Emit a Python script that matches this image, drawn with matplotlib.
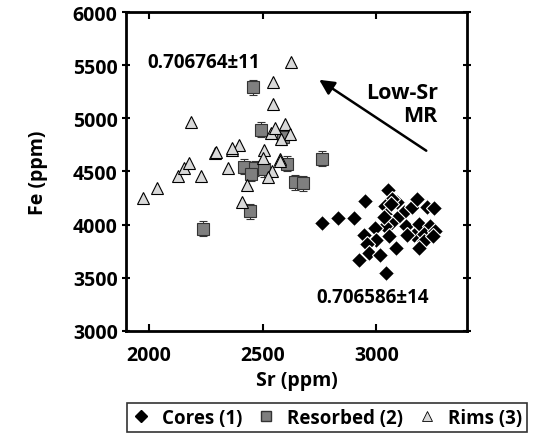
import matplotlib
matplotlib.use("Agg")
import matplotlib.pyplot as plt
from matplotlib.lines import Line2D

plt.rcParams["font.family"] = ["Open Sans", "DejaVu Sans"]
plt.rcParams["font.weight"] = "bold"

# ── Data ──────────────────────────────────────────────────────────────────────

# Cores (1): black diamonds
core_sr = [2761, 2831, 2900, 2951, 3050, 3091, 3069, 3039, 3120, 3157, 3178,
           3223, 3252, 3044, 3091, 3065, 3039, 3132, 3186, 3237, 2995, 2944,
           3054, 3000, 3164, 3211, 3259, 2959, 3208, 3087, 3186, 2966, 3017,
           2925, 3044, 3134, 3249, 3065, 3032]
core_fe = [4016, 4060, 4060, 4226, 4329, 4210, 4242, 4173, 4117, 4164, 4242,
           4164, 4154, 4091, 4063, 4016, 3991, 3991, 4006, 3985, 3966, 3903,
           3897, 3859, 3903, 3912, 3944, 3818, 3850, 3778, 3778, 3734, 3715,
           3671, 3546, 3903, 3891, 4195, 4069]

# Resorbed (2): grey squares with Fe error bars
res_sr  = [2237, 2446, 2419, 2467, 2507, 2450, 2607, 2643, 2680, 2762, 2460,
           2494, 2588]
res_fe  = [3960, 4126, 4545, 4530, 4520, 4477, 4571, 4399, 4389, 4620, 5292,
           4894, 4822]
res_err = [70] * len(res_sr)

# Rims (3): light grey triangles
rim_sr = [1973, 2036, 2130, 2157, 2179, 2230, 2292, 2366, 2349, 2431, 2410,
          2185, 2625, 2548, 2548, 2598, 2538, 2556, 2621, 2508, 2398, 2368,
          2295, 2577, 2582, 2504, 2541, 2526, 2577]
rim_fe = [4248, 4342, 4455, 4533, 4577, 4455, 4675, 4703, 4533, 4376, 4216,
          4963, 5533, 5340, 5133, 4947, 4860, 4906, 4853, 4705, 4752, 4718,
          4681, 4618, 4806, 4625, 4508, 4446, 4602]

x_ticks = [2000, 2500, 3000]
y_ticks = [3000, 3500, 4000, 4500, 5000, 5500, 6000]

# ── Figure ────────────────────────────────────────────────────────────────────

fig = plt.figure(figsize=(5.34, 4.35), dpi=100)
ax = fig.add_axes([0.236, 0.237, 0.639, 0.733])

ax.plot(core_sr, core_fe, ls="none", marker="D", ms=8.5, mfc="black",
        mec="white", mew=0.8, zorder=3)
ax.errorbar(res_sr, res_fe, yerr=res_err, fmt="s", ms=8, mfc="#7f7f7f",
            mec="#333333", mew=0.8, ecolor="#333333", elinewidth=0.8,
            capsize=3, capthick=0.8, zorder=4)
ax.plot(rim_sr, rim_fe, ls="none", marker="^", ms=9, mfc="#d9d9d9",
        mec="black", mew=0.8, zorder=5)

ax.set_xlim(1900, 3400)
ax.set_ylim(3000, 6000)
ax.set_xticks(x_ticks)
ax.set_yticks(y_ticks)
ax.tick_params(axis="x", direction="in", top=True, length=5, width=1.5,
               labelsize=14, pad=10)
ax.tick_params(axis="y", direction="inout", right=True, length=6, width=1.5,
               labelsize=14, pad=3)
for s in ax.spines.values():
    s.set_linewidth(2)

ax.set_xlabel("Sr (ppm)", fontsize=14, fontweight="bold", labelpad=4)
ax.set_ylabel("Fe (ppm)", fontsize=14, fontweight="bold", labelpad=18)

ax.text(1992, 5531, "0.706764±11", fontsize=13.5, fontweight="bold",
        va="center", ha="left")
ax.text(2736, 3320, "0.706586±14", fontsize=13.5, fontweight="bold",
        va="center", ha="left")
ax.text(3270, 5135, "Low-Sr\nMR", fontsize=15.5, fontweight="bold",
        va="center", ha="right", linespacing=1.15)
ax.annotate("", xy=(2739, 5377), xytext=(3230, 4681),
            arrowprops=dict(arrowstyle="-|>,head_length=0.9,head_width=0.45",
                            color="black", lw=1.8))

handles = [
    Line2D([], [], ls="none", marker="D", ms=6, mfc="black", mec="black"),
    Line2D([], [], ls="none", marker="s", ms=7, mfc="#7f7f7f", mec="#333333"),
    Line2D([], [], ls="none", marker="^", ms=7, mfc="#d9d9d9", mec="black",
           mew=0.6),
]
leg = fig.legend(handles, ["Cores (1)", "Resorbed (2)", "Rims (3)"],
                 loc="lower left", bbox_to_anchor=(0.238, 0.004, 0.748, 0.074),
                 mode="expand", ncol=3, fancybox=False, edgecolor="black",
                 prop={"weight": "bold", "size": 13.5},
                 handletextpad=0.6, borderpad=0.25, borderaxespad=0,
                 handlelength=1.0)
leg.get_frame().set_linewidth(1.2)

fig.savefig("out.png", dpi=100)
